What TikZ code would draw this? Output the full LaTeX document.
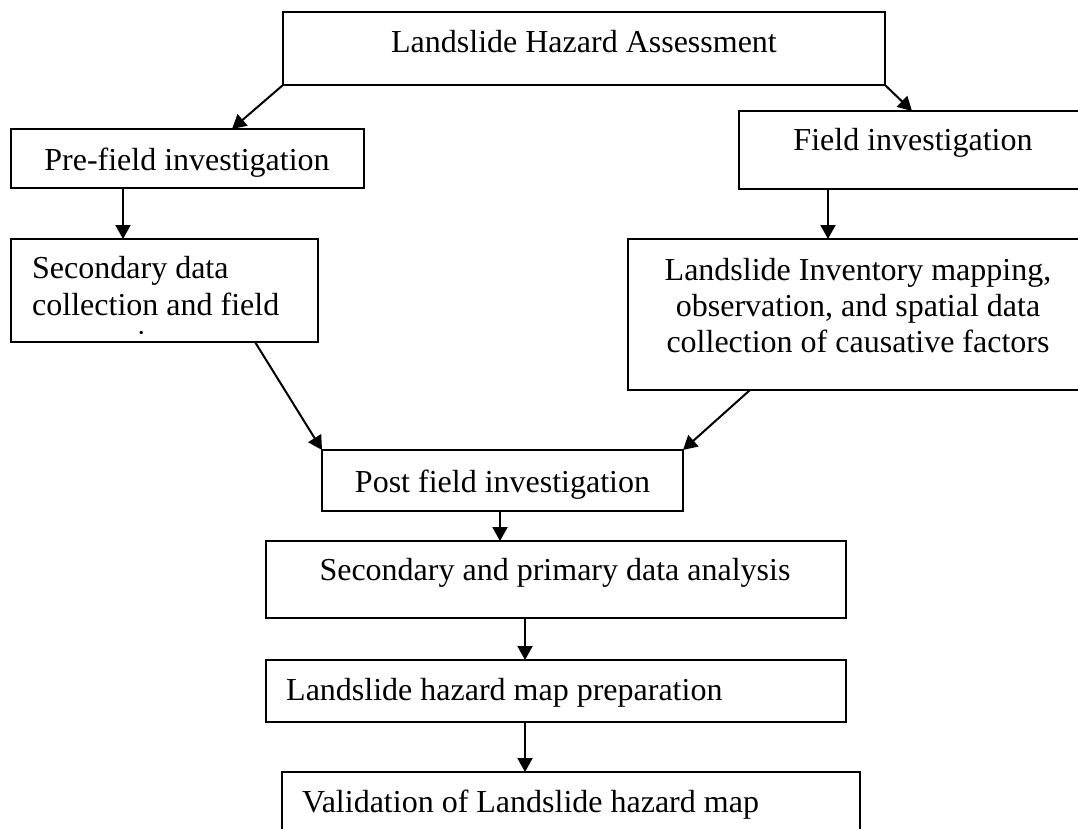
\documentclass[tikz,border=0pt]{standalone}
\usepackage{fontspec}
\setmainfont{Liberation Serif}
\usetikzlibrary{arrows.meta}
\begin{document}
\begin{tikzpicture}[x=1pt,y=-1pt,
  box/.style={draw=black,line width=1.6pt,inner sep=0pt,outer sep=0pt,anchor=north west},
  txt/.style={inner sep=0pt,font=\fontsize{32}{36.8}\selectfont},
  arr/.style={line width=2pt,-{Triangle[length=14pt,width=15pt]}}]
\useasboundingbox (0,0) rectangle (1078,828);
\fill[white] (0,0) rectangle (1078,828);
\clip (0,0) rectangle (1078,828);
% boxes
\node[box,minimum width=602pt,minimum height=73pt] (top) at (283,12) {};
\node[box,minimum width=353pt,minimum height=59pt] (pre) at (11,129) {};
\node[box,minimum width=360pt,minimum height=78pt] (field) at (739,111) {};
\node[box,minimum width=307pt,minimum height=103pt] (sec) at (11,239) {};
\node[box,minimum width=470pt,minimum height=151pt] (inv) at (628,239) {};
\node[box,minimum width=361pt,minimum height=61pt] (post) at (322,450) {};
\node[box,minimum width=580pt,minimum height=77pt] (sp) at (266,541) {};
\node[box,minimum width=580pt,minimum height=62pt] (hz) at (266,660) {};
\node[box,minimum width=578pt,minimum height=80pt] (val) at (282,772) {};
% texts
\node[txt,anchor=base] (top-t) at (584,52) {Landslide Hazard Assessment};
\node[txt,anchor=base] (pre-t) at (187,170) {Pre-field investigation};
\node[txt,anchor=base] (field-t) at (913,150) {Field investigation};
\node[txt,anchor=base west] (sec-t1) at (32,278) {Secondary data};
\node[txt,anchor=base west] (sec-t2) at (32,315) {collection and field};
\begin{scope}
\clip (12,240) rectangle (317,333);
\node[txt,anchor=base west] (sec-t3) at (32,352) {preparation};
\end{scope}
\node[txt,anchor=base] (inv-t1) at (858,280) {Landslide Inventory mapping,};
\node[txt,anchor=base] (inv-t2) at (858,316) {observation, and spatial data};
\node[txt,anchor=base] (inv-t3) at (858,352) {collection of causative factors};
\node[txt,anchor=base] (post-t) at (502.5,492) {Post field investigation};
\node[txt,anchor=base] (sp-t) at (555,580) {Secondary and primary data analysis};
\node[txt,anchor=base west] (hz-t) at (286,700) {Landslide hazard map preparation};
\node[txt,anchor=base west] (val-t) at (302,812) {Validation of Landslide hazard map};
% connectors
\draw[arr] (top.south west) -- ([xshift=-132pt]pre.north east);
\draw[arr] (top.south east) -- ([xshift=173pt]field.north west);
\draw[arr] ([xshift=112pt]pre.south west) -- ([xshift=112pt]sec.north west);
\draw[arr] ([xshift=89pt]field.south west) -- ([xshift=200pt]inv.north west);
\draw[arr] ([xshift=244pt]sec.south west) -- (post.north west);
\draw[arr] ([xshift=122pt]inv.south west) -- (post.north east);
\draw[arr] ([xshift=178pt]post.south west) -- ([xshift=234pt]sp.north west);
\draw[arr] ([xshift=259pt]sp.south west) -- ([xshift=259pt]hz.north west);
\draw[arr] ([xshift=259pt]hz.south west) -- ([xshift=243pt]val.north west);
\end{tikzpicture}
\end{document}
